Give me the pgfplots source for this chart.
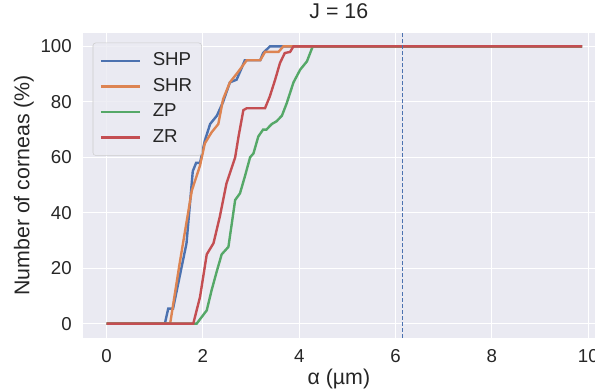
\documentclass[border=0pt]{standalone}
\usepackage{fontspec}
\setmainfont{Liberation Sans}
\usepackage{pgfplots}
\pgfplotsset{compat=1.18}
\definecolor{bgc}{HTML}{EAEAF2}
\definecolor{tc}{HTML}{262626}
\definecolor{legc}{HTML}{CCCCCC}
\definecolor{cblue}{HTML}{4C72B0}
\definecolor{corange}{HTML}{DD8452}
\definecolor{cgreen}{HTML}{55A868}
\definecolor{cred}{HTML}{C44E52}
\begin{document}
\begin{tikzpicture}
\begin{axis}[
  scale only axis, width=384pt, height=228pt,
  xmin=-0.495, xmax=10.14, ymin=-5, ymax=104.7,
  axis background/.style={fill=bgc},
  grid=major, major grid style={white, line width=0.8pt},
  axis line style={draw=none}, tick style={draw=none},
  xtick={0,2,...,10}, ytick={0,20,...,100},
  /pgf/number format/assume math mode=true,
  ticklabel style={font=\fontsize{14}{16}\selectfont, text=tc, inner sep=0pt},
  xticklabel style={anchor=base, yshift=-19pt},
  yticklabel style={anchor=east, xshift=-8pt},
  title={J = 16},
  title style={font=\fontsize{16}{19}\selectfont, text=tc, at={(axis description cs:0.5,1)}, anchor=base, yshift=5.5pt, inner sep=0pt},
  xlabel={α (µm)},
  xlabel style={font=\fontsize{16}{19}\selectfont, text=tc, at={(axis description cs:0.5,0)}, anchor=base, yshift=-35pt, inner sep=0pt},
  ylabel={Number of corneas (\%)},
  ylabel style={font=\fontsize{16}{19}\selectfont, text=tc, at={(axis description cs:-0.104,0.5)}, anchor=base, inner sep=0pt},
  legend style={at={(axis description cs:0,1)}, anchor=north west, xshift=7.5pt, yshift=-7pt,
    fill=bgc, fill opacity=0.8, text opacity=1, draw=legc, rounded corners=2pt,
    font=\fontsize{14}{16}\selectfont, text=tc, row sep=2.1pt, column sep=7pt, inner xsep=5pt, inner ysep=5pt,
    nodes={text height=10pt, text depth=3pt}},
  legend cell align=left,
  legend image code/.code={\draw[#1, line width=1.8pt, draw opacity=1] (0pt,0pt) -- (29pt,0pt);},
  every axis plot/.append style={line width=1.8pt},
]
\addplot[cblue] coordinates {(0,0) (1.21,0) (1.28,5.4) (1.38,5.4) (1.66,29) (1.79,55) (1.86,58) (1.94,58) (2.04,66) (2.15,72) (2.29,75) (2.42,80) (2.56,87) (2.7,88) (2.8,92) (2.87,95) (3.19,95) (3.25,97.6) (3.39,100) (9.87,100)};
\addlegendentry{SHP}
\addplot[corange] coordinates {(0,0) (1.32,0) (1.52,22) (1.77,48) (1.94,57) (2.04,65) (2.18,69) (2.32,72) (2.42,81) (2.56,87) (2.74,91) (2.91,95) (3.19,95) (3.29,98) (3.57,98) (3.67,100) (9.87,100)};
\addlegendentry{SHR}
\addplot[cgreen] coordinates {(0,0) (1.87,0) (2.08,4.8) (2.18,12) (2.29,19) (2.39,25) (2.53,27.7) (2.67,44.6) (2.77,47) (2.87,53) (2.98,60) (3.05,61.4) (3.15,67.5) (3.25,70) (3.32,70) (3.43,72) (3.53,73) (3.64,75) (3.74,79.5) (3.88,87) (4.02,91.6) (4.16,94.6) (4.28,100) (9.87,100)};
\addlegendentry{ZP}
\addplot[cred] coordinates {(0,0) (1.8,0) (1.94,9.6) (2.08,25) (2.22,29) (2.35,38.5) (2.49,50.6) (2.67,60) (2.74,67.5) (2.84,77) (2.91,77.7) (3.29,77.7) (3.39,82) (3.5,88) (3.6,94) (3.7,97.6) (3.81,98) (3.88,100) (9.87,100)};
\addlegendentry{ZR}
\addplot[cblue, line width=0.75pt, dash pattern=on 3pt off 1.5pt, forget plot] coordinates {(6.15,-5) (6.15,104.7)};
\coordinate (ll) at (rel axis cs:0,0);
\coordinate (ur) at (rel axis cs:1,1);
\end{axis}
\pgfresetboundingbox
\useasboundingbox ([shift={(-62pt,-39pt)}]ll) rectangle ([shift={(0pt,25pt)}]ur);
\end{tikzpicture}
\end{document}
